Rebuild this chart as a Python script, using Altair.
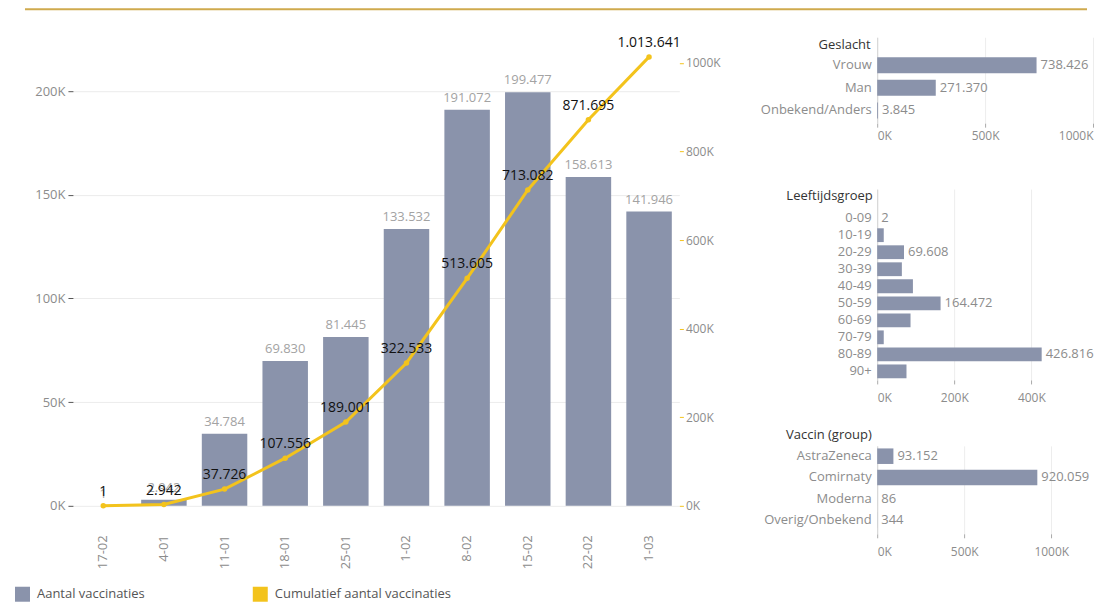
import altair as alt
import pandas as pd

# ---------------- data ----------------
weeks = ["17-02", "4-01", "11-01", "18-01", "25-01", "1-02", "8-02", "15-02", "22-02", "1-03"]
weekly = [1, 2942, 34784, 69830, 81445, 133532, 191072, 199477, 158613, 141946]
cumulative = [1, 2942, 37726, 107556, 189001, 322533, 513605, 713082, 871695, 1013641]

series_names = ["Aantal vaccinaties", "Cumulatief aantal vaccinaties"]

gender_cats = ["Vrouw", "Man", "Onbekend/Anders"]
gender_vals = [738426, 271370, 3845]
gender_lbls = ["738.426", "271.370", "3.845"]

age_cats = ["0-09", "10-19", "20-29", "30-39", "40-49", "50-59", "60-69", "70-79", "80-89", "90+"]
age_vals = [2, 17000, 69608, 64000, 92700, 164472, 86500, 17000, 426816, 76000]
age_lbls = ["2", "", "69.608", "", "", "164.472", "", "", "426.816", ""]

vac_cats = ["AstraZeneca", "Comirnaty", "Moderna", "Overig/Onbekend"]
vac_vals = [93152, 920059, 86, 344]
vac_lbls = ["93.152", "920.059", "86", "344"]

# ---------------- style ----------------
GREY = "#8a93ab"
GOLD = "#f3c31c"
RULE = "#cfaa4e"
TXT = "#8c8c8c"
KFMT = "format(datum.value / 1000, 'd') + 'K'"


def nl(n):
    return f"{n:,}".replace(",", ".")


main_df = pd.DataFrame({
    "week": weeks,
    "weekly": weekly,
    "cum": cumulative,
    "weekly_lbl": [nl(v) for v in weekly],
    "cum_lbl": [nl(v) for v in cumulative],
    "series": series_names[0],
})

x_enc = alt.X(
    "week:N", sort=weeks,
    scale=alt.Scale(paddingInner=0.25, paddingOuter=0.125),
    axis=alt.Axis(title=None, labelAngle=270, ticks=False, domain=False,
                  labelPadding=29, labelColor=TXT, labelFontSize=13, grid=False),
)

y_left = alt.Y(
    "weekly:Q",
    scale=alt.Scale(domain=[0, 226000], nice=False),
    axis=alt.Axis(title=None, values=[0, 50000, 100000, 150000, 200000], labelExpr=KFMT,
                  tickColor="#555", tickSize=5, labelPadding=3, labelColor=TXT,
                  labelFontSize=13, domain=False, gridColor="#ececec"),
)

bars = alt.Chart(main_df).mark_bar().encode(
    x=x_enc,
    y=y_left,
    color=alt.Color(
        "series:N",
        scale=alt.Scale(domain=series_names, range=[GREY, GOLD]),
        legend=alt.Legend(title=None, orient="none", legendX=-58, legendY=550,
                          direction="horizontal", symbolType="square", symbolSize=225,
                          symbolStrokeWidth=0, symbolOpacity=1, labelFontSize=13,
                          labelColor="#555", columnPadding=108, labelOffset=7,
                          labelLimit=300),
    ),
)
bar_text = alt.Chart(main_df).mark_text(dy=-5, baseline="bottom", color="#a3a3a3", fontSize=13).encode(
    x=x_enc, y=alt.Y("weekly:Q"), text="weekly_lbl:N"
)

y_right = alt.Y(
    "cum:Q",
    scale=alt.Scale(domain=[0, 1058000], nice=False),
    axis=alt.Axis(orient="right", title=None,
                  values=[0, 200000, 400000, 600000, 800000, 1000000], labelExpr=KFMT,
                  tickColor=GOLD, tickSize=4, labelPadding=2, labelColor=TXT,
                  labelFontSize=12, domain=False, grid=False),
)
line = alt.Chart(main_df).mark_line(
    color=GOLD, strokeWidth=3,
    point=alt.OverlayMarkDef(color=GOLD, size=30, filled=True),
).encode(x=x_enc, y=y_right)
line_text = alt.Chart(main_df).mark_text(dy=-14, color="#111111", fontSize=14).encode(
    x=x_enc, y=alt.Y("cum:Q"), text="cum_lbl:N"
)

main = alt.layer(
    alt.layer(bars, bar_text),
    alt.layer(line, line_text),
).resolve_scale(y="independent").properties(width=607, height=469)


def panel(cats, vals, lbls, title, dom, ticks, height, pi, po, align, title_x, title_y, label_pad):
    df = pd.DataFrame({"cat": cats, "val": vals, "lbl": lbls})
    y = alt.Y(
        "cat:N", sort=cats,
        scale=alt.Scale(paddingInner=pi, paddingOuter=po, align=align),
        axis=alt.Axis(title=title, titleAngle=0, titleAlign="right", titleBaseline="middle",
                      titleX=title_x, titleY=title_y, titleFontSize=13,
                      titleFontWeight="normal", titleColor="#333333",
                      labelColor=TXT, labelFontSize=13, labelPadding=6, ticks=False,
                      domain=True, domainColor="#d4d4d4"),
    )
    x = alt.X(
        "val:Q",
        scale=alt.Scale(domain=dom, nice=False),
        axis=alt.Axis(title=None, values=ticks, labelExpr=KFMT, labelFlush=True,
                      gridColor="#ededed", domain=False, tickColor="#aaaaaa", tickSize=4,
                      labelColor=TXT, labelFontSize=12, labelPadding=label_pad),
    )
    b = alt.Chart(df).mark_bar(color=GREY).encode(x=x, y=y)
    t = alt.Chart(df).mark_text(align="left", dx=4, color=TXT, fontSize=13).encode(
        x="val:Q", y=alt.Y("cat:N", sort=cats), text="lbl:N"
    )
    return alt.layer(b, t).properties(width=216, height=height)


g_chart = panel(gender_cats, gender_vals, gender_lbls, "Geslacht", [0, 1000000],
                [0, 500000, 1000000], 86, 0.29, 0.542, 0.81, -7, 7, 3)
a_chart = panel(age_cats, age_vals, age_lbls, "Leeftijdsgroep", [0, 560000],
                [0, 200000, 400000], 191, 0.19, 0.70, 0.93, -5, 6, 9)
v_chart = panel(vac_cats, vac_vals, vac_lbls, "Vaccin (group)", [0, 1240000],
                [0, 500000, 1000000], 88, 0.27, 0.2, 0.3, -6, -11, 9)

right = alt.vconcat(g_chart, a_chart, v_chart, spacing=66, bounds="flush")

rule_chart = alt.Chart(pd.DataFrame({"r": [0]})).mark_rule(color=RULE, strokeWidth=2).encode(
    x=alt.value(-48), x2=alt.value(1015), y=alt.value(1)
).properties(width=1015, height=2)

body = alt.hconcat(main, right, spacing=39).resolve_scale(color="independent")

chart = alt.vconcat(rule_chart, body, spacing=25).resolve_scale(color="independent").properties(
    padding={"left": 7, "top": 0, "right": 0, "bottom": 0}
).configure(font="Open Sans").configure_view(stroke=None)

chart.save("out.html", embed_options={"renderer": "svg", "actions": False})
